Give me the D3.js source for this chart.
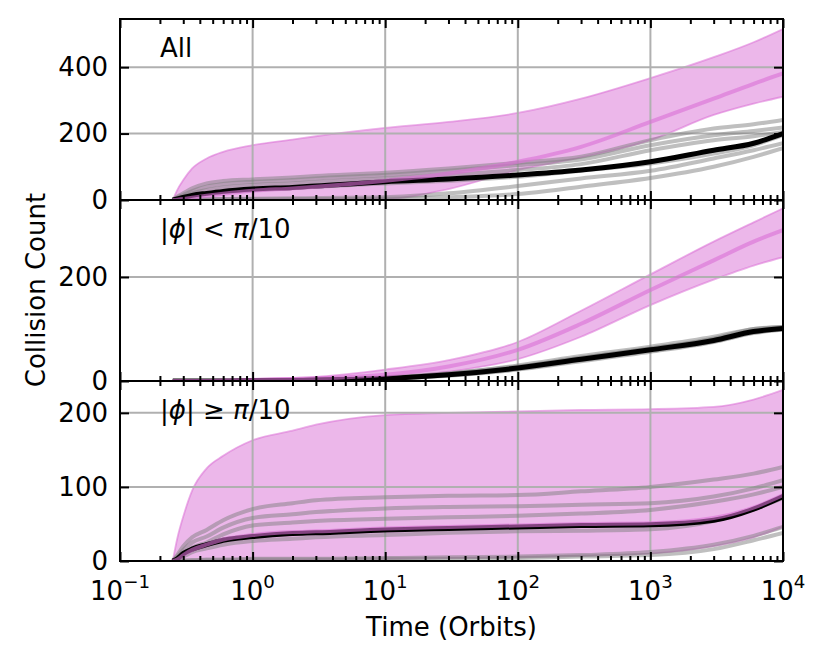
<!DOCTYPE html>
<html><head><meta charset="utf-8">
<script src="https://cdn.jsdelivr.net/npm/d3@7"></script>
<style>body{margin:0;background:#fff}svg{display:block}text{font-family:"DejaVu Sans",sans-serif;fill:#000}</style>
</head><body>
<svg id="c" width="829" height="660"></svg>
<script>
// ---- data ----
const times = [0.25,0.27,0.3,0.35,0.45,0.6,1,2,3,10,30,100,300,1000,3000,6000,10000];
const panelLabels = ["All","lt","ge"];
const yTicks = [[0,200,400],[0,200],[0,100,200]];
const yMax = [545,348,243];
const xTickExps = [-1,0,1,2,3,4];

// Panel 1: All
const allUpper = [0,30,60,95,125,145,165,182,192,217,235,262,305,367,430,475,515];
const allMean  = [0,1,3,7,13,19,28,35,40,58,80,115,160,235,305,350,381];
const allLower = [0,0,0,0,1,1,2,3,3,3,33,90,128,180,256,290,311];
const allMedian= [0,3,8,14,20,26,33,38,42,55,63,75,90,115,150,171,200];
const allRuns = [
  [0,10,20,35,50,57,62,68,72,82,95,112,130,180,215,228,241],
  [0,7,15,27,40,48,55,60,65,75,88,105,122,165,195,208,218],
  [0,5,10,20,30,38,45,50,54,65,76,90,108,150,180,192,205],
  [0,4,8,13,18,24,30,36,40,50,58,70,88,110,140,165,195],
  [0,1,2,2,3,3,4,5,6,8,20,42,65,88,125,150,171],
  [0,0,1,1,1,2,2,3,3,4,8,18,40,66,100,130,156]
];
// Panel 2: |phi| < pi/10
const inUpper = [0,0,0,0,1,1,4,6,8,22,40,75,135,205,268,305,332];
const inMean  = [0,0,0,0,0,1,2,4,5,12,28,60,110,175,232,268,290];
const inLower = [0,0,0,0,0,0,1,1,2,6,18,42,85,146,195,222,238];
const inMedian= [0,0,0,0,0,0,1,1,2,5,12,25,42,60,78,95,101];
const inRuns = [
  [0,0,0,0,0,1,1,2,3,6,14,30,48,66,85,100,104],
  [0,0,0,0,0,0,1,1,1,4,10,22,38,56,75,92,99],
  [0,0,0,0,0,0,1,2,2,5,13,27,45,62,82,100,104],
  [0,0,0,0,0,0,0,1,1,4,11,23,40,58,76,93,100],
  [0,0,0,0,0,1,1,2,3,7,15,28,44,63,80,97,103]
];
// Panel 3: |phi| >= pi/10
const outUpper = [0,30,60,95,125,142,163,176,184,197,200,202,204,205,208,218,231];
const outMean  = [0,2,8,15,22,29,35,39,40,44,46,48,50,51,58,72,89];
const outLower = [0,0,0,0,0,1,1,1,2,3,4,5,7,10,20,32,46];
const outMedian= [0,3,10,16,22,28,33,37,38,42,44,46,48,49,55,70,87];
const outRuns = [
  [0,8,20,32,42,55,70,78,82,86,88,89,94,100,110,118,127],
  [0,6,15,25,33,45,58,63,66,71,73,74,76,78,87,98,109],
  [0,4,10,18,25,36,48,52,54,57,59,61,64,69,80,90,100],
  [0,3,6,12,17,22,27,30,32,35,38,40,41,43,54,70,85],
  [0,0,1,1,2,2,3,3,3,4,5,6,8,12,22,34,46],
  [0,0,0,1,1,1,2,2,2,3,3,4,6,8,16,28,38]
];

const panels = [
  {upper:allUpper,mean:allMean,lower:allLower,median:allMedian,runs:allRuns},
  {upper:inUpper,mean:inMean,lower:inLower,median:inMedian,runs:inRuns},
  {upper:outUpper,mean:outMean,lower:outLower,median:outMedian,runs:outRuns}
];

// ---- layout ----
const L=120,R=783;
const tops=[19,200,381], bots=[200,381,561];
const FS=26;
const svg=d3.select("#c");
const x=d3.scaleLog().domain([0.1,1e4]).range([L,R]);
const majors=xTickExps.map(e=>Math.pow(10,e));
const minors=[];
for(let e=-1;e<4;e++) for(let m=2;m<=9;m++) minors.push(m*Math.pow(10,e));

panels.forEach((p,i)=>{
  const y=d3.scaleLinear().domain([0,yMax[i]]).range([bots[i],tops[i]]);
  const g=svg.append("g");
  const cid="clip"+i;
  svg.append("clipPath").attr("id",cid).append("rect")
    .attr("x",L).attr("y",tops[i]).attr("width",R-L).attr("height",bots[i]-tops[i]);
  const cg=g.append("g").attr("clip-path",`url(#${cid})`);
  const curve=d3.curveMonotoneX;
  // band
  const area=d3.area().x((d,j)=>x(times[j])).y0((d,j)=>y(p.lower[j])).y1((d,j)=>y(p.upper[j])).curve(curve);
  cg.append("path").datum(times).attr("d",area)
    .attr("fill","#DA70D6").attr("fill-opacity",0.5)
    .attr("stroke","#DA70D6").attr("stroke-opacity",0.55).attr("stroke-width",1.8);
  // grid
  cg.selectAll(".gx").data(majors.slice(1,-1)).enter().append("line")
    .attr("x1",d=>x(d)).attr("x2",d=>x(d)).attr("y1",tops[i]).attr("y2",bots[i])
    .attr("stroke","#b0b0b0").attr("stroke-width",2);
  cg.selectAll(".gy").data(yTicks[i]).enter().append("line")
    .attr("x1",L).attr("x2",R).attr("y1",d=>y(d)).attr("y2",d=>y(d))
    .attr("stroke","#b0b0b0").attr("stroke-width",2);
  const line=vals=>d3.line().x((d,j)=>x(times[j])).y((d,j)=>y(vals[j])).curve(curve)(times);
  p.runs.forEach(r=>{
    cg.append("path").attr("d",line(r)).attr("fill","none")
      .attr("stroke","#808080").attr("stroke-opacity",0.5).attr("stroke-width",4);
  });
  cg.append("path").attr("d",line(p.median)).attr("fill","none")
    .attr("stroke","#000").attr("stroke-width",5);
  cg.append("path").attr("d",line(p.mean)).attr("fill","none")
    .attr("stroke","#DA70D6").attr("stroke-opacity",0.6).attr("stroke-width",4);

  // x ticks (inward, bottom and top)
  const xb=d3.axisBottom(x).tickValues(majors).tickSize(-9).tickFormat("");
  const xbm=d3.axisBottom(x).tickValues(minors).tickSize(-5).tickFormat("");
  const xt=d3.axisTop(x).tickValues(majors).tickSize(-9).tickFormat("");
  const xtm=d3.axisTop(x).tickValues(minors).tickSize(-5).tickFormat("");
  [[xb,bots[i]],[xbm,bots[i]],[xt,tops[i]],[xtm,tops[i]]].forEach(([ax,yy])=>{
    const a=g.append("g").attr("transform",`translate(0,${yy})`).call(ax);
    a.select(".domain").remove();
    a.selectAll("line").attr("stroke","#000").attr("stroke-width",2);
  });
  // y ticks
  const yl=g.append("g").attr("transform",`translate(${L},0)`)
    .call(d3.axisLeft(y).tickValues(yTicks[i]).tickSize(-9).tickPadding(12));
  yl.select(".domain").remove();
  yl.selectAll("line").attr("stroke","#000").attr("stroke-width",2);
  yl.selectAll("text").attr("font-size",FS).attr("font-family","DejaVu Sans").attr("fill","#000");
  const yr=g.append("g").attr("transform",`translate(${R},0)`)
    .call(d3.axisRight(y).tickValues(yTicks[i]).tickSize(-9).tickFormat(""));
  yr.select(".domain").remove();
  yr.selectAll("line").attr("stroke","#000").attr("stroke-width",2);
  // spine
  g.append("rect").attr("x",L).attr("y",tops[i]).attr("width",R-L).attr("height",bots[i]-tops[i])
    .attr("fill","none").attr("stroke","#000").attr("stroke-width",2);

  // panel label
  const t=g.append("text").attr("x",160).attr("y",tops[i]+38).attr("font-size",FS);
  if(panelLabels[i]==="All"){ t.text("All"); }
  else{
    t.append("tspan").text("|");
    t.append("tspan").attr("font-style","italic").text("ϕ");
    t.append("tspan").text(panelLabels[i]==="lt" ? "| < " : "| ≥ ");
    t.append("tspan").attr("font-style","italic").text("π");
    t.append("tspan").text("/10");
  }
});

// x tick labels on bottom panel
xTickExps.forEach(e=>{
  const t=svg.append("text").attr("x",x(Math.pow(10,e))).attr("y",600)
    .attr("text-anchor","middle").attr("font-size",FS);
  t.append("tspan").text("10");
  t.append("tspan").attr("font-size",FS*0.7).attr("dy",-12).text(e<0?"\u2212"+(-e):String(e));
});
svg.append("text").attr("x",(L+R)/2).attr("y",636).attr("text-anchor","middle")
  .attr("font-size",FS).text("Time (Orbits)");
svg.append("text").attr("transform",`translate(45,${(19+561)/2}) rotate(-90)`)
  .attr("text-anchor","middle").attr("font-size",FS).text("Collision Count");
</script>
</body></html>
